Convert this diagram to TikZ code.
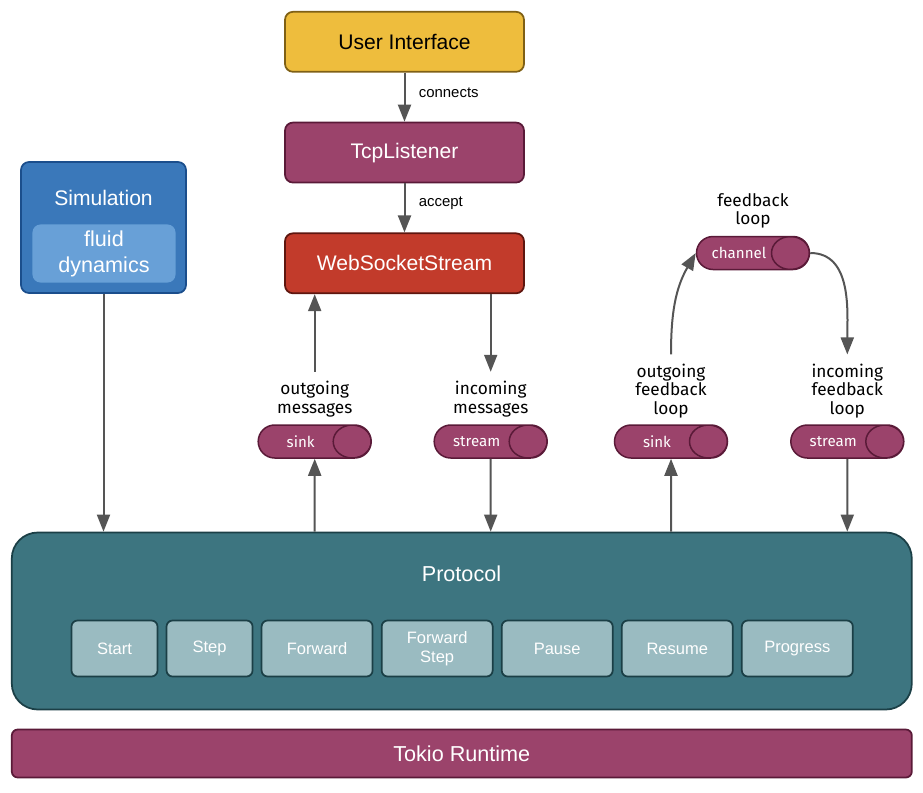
\documentclass[tikz,border=0pt]{standalone}
\usepackage{fontspec}
\setmainfont{Liberation Sans}
\newfontfamily\labelfont{Fira Sans}
\usetikzlibrary{positioning,shapes.misc,arrows.meta}

\definecolor{uiyellow}{HTML}{EEBD3D}
\definecolor{uiyellowdark}{HTML}{7F6015}
\definecolor{tokiopurple}{HTML}{9B436B}
\definecolor{tokiopurpledark}{HTML}{5A1A38}
\definecolor{wsred}{HTML}{C23B2B}
\definecolor{wsreddark}{HTML}{5E160F}
\definecolor{simblue}{HTML}{3A78BA}
\definecolor{simbluedark}{HTML}{1B4E8C}
\definecolor{simbluelight}{HTML}{68A0D7}
\definecolor{prototeal}{HTML}{3D7580}
\definecolor{prototealdark}{HTML}{1B3F46}
\definecolor{msgteal}{HTML}{9ABBC1}
\definecolor{arrowgray}{HTML}{555555}

\tikzset{
  box/.style={rounded corners=1.6mm, line width=0.35mm, minimum width=47.8mm, minimum height=12.0mm, font=\fontsize{12}{14}\selectfont},
  msgbox/.style={draw=prototealdark, fill=msgteal, rounded corners=1.2mm, line width=0.35mm, minimum height=11.2mm, text=white, align=center, font=\fontsize{9.4}{11}\selectfont},
  pipe/.style={rounded rectangle, draw=tokiopurpledark, fill=tokiopurple, line width=0.3mm, minimum width=22.6mm, minimum height=6.6mm, inner sep=0pt, text=white, font=\labelfont\fontsize{8.6}{9}\selectfont, execute at end node=\hspace{5.6mm},
    path picture={\draw[tokiopurpledark, line width=0.3mm] ([xshift=-3.8mm]path picture bounding box.east) ellipse (3.8mm and 3.3mm);}},
  flowlabel/.style={align=center, font=\labelfont\fontsize{9.8}{10.6}\selectfont, inner sep=1.8mm},
  edgelabel/.style={font=\fontsize{8.5}{10}\selectfont, text=black, anchor=west, xshift=1.5mm},
  flow/.style={-{Triangle[width=2.6mm,length=3.4mm]}, color=arrowgray, line width=0.4mm},
}

\begin{document}
\begin{tikzpicture}[x=0.2mm, y=-0.2mm]
\useasboundingbox (0,0) rectangle (923,793);

% connection chain
\node [box, fill=uiyellow, draw=uiyellowdark] (ui) at (404.5,41.8) {User Interface};
\node [box, fill=tokiopurple, draw=tokiopurpledark, text=white, below=9.8mm of ui] (tcp) {TcpListener};
\node [box, fill=wsred, draw=wsreddark, text=white, below=9.8mm of tcp] (ws) {WebSocketStream};

\draw [flow] (ui) -- (tcp) node [edgelabel, pos=0.4] {connects};
\draw [flow] (tcp) -- (ws) node [edgelabel, pos=0.4] {accept};

% simulation
\node [box, fill=simblue, draw=simbluedark, minimum width=33mm, minimum height=26.2mm] (sim) at (103.5,227.5) {};
\node [text=white, font=\fontsize{12}{14}\selectfont] (simtitle) at (103.5,197.5) {Simulation};
\node [fill=simbluelight, rounded corners=1.6mm, minimum width=28.6mm, minimum height=11.2mm, text=white, align=center, font=\fontsize{12.3}{14.9}\selectfont] (fluid) at (104,253.5) {fluid\\dynamics};

% protocol and runtime
\node [fill=prototeal, draw=prototealdark, line width=0.35mm, rounded corners=5.2mm, minimum width=180mm, minimum height=35.4mm] (proto) at (461.8,621) {};
\node [text=white, font=\fontsize{12.3}{14}\selectfont] (prototitle) at (461.5,574) {Protocol};
\node [fill=tokiopurple, draw=tokiopurpledark, line width=0.35mm, rounded corners=1.2mm, minimum width=180mm, minimum height=9.6mm, text=white, font=\fontsize{12.3}{14}\selectfont] (tokio) at (461.8,753.5) {Tokio Runtime};

\node [msgbox, minimum width=17.2mm] (start) at (114.5,648.5) {Start};
\node [msgbox, minimum width=17.2mm, right=1.46mm of start] (step) {Step};
\node [msgbox, minimum width=22.2mm, right=1.46mm of step] (forward) {Forward};
\node [msgbox, minimum width=22.2mm, right=1.46mm of forward] (fwdstep) {Forward\\Step};
\node [msgbox, minimum width=22.2mm, right=1.46mm of fwdstep] (pause) {Pause};
\node [msgbox, minimum width=22.2mm, right=1.46mm of pause] (resume) {Resume};
\node [msgbox, minimum width=22.2mm, right=1.46mm of resume] (progress) {Progress};

% channels
\node [pipe] (sinkmsg) at (314.7,441.5) {sink};
\node [pipe] (streammsg) at (490.7,441.5) {stream};
\node [pipe] (sinkfb) at (671,441.5) {sink};
\node [pipe] (streamfb) at (847.3,441.5) {stream};
\node [pipe] (channel) at (753,253) {channel};

\node [flowlabel] (msgout) at (314.7,399) {outgoing\\messages};
\node [flowlabel] (msgin) at (490.7,399) {incoming\\messages};
\node [flowlabel] (fbout) at (671,391) {outgoing\\feedback\\loop};
\node [flowlabel] (fbin) at (847.3,391) {incoming\\feedback\\loop};
\node [flowlabel, inner sep=0.5mm] (fbloop) at (753,211) {feedback\\loop};

\draw [flow] (sim) -- (sim |- proto.north);
\draw [flow] (proto.north -| sinkmsg) -- (sinkmsg);
\draw [flow] (streammsg) -- (streammsg |- proto.north);
\draw [flow] (proto.north -| sinkfb) -- (sinkfb);
\draw [flow] (streamfb) -- (streamfb |- proto.north);

\draw [flow] (msgout) -- (msgout |- ws.south);
\draw [flow] (msgin |- ws.south) -- (msgin);

% feedback loop
\draw [flow] (fbout.north) to [out=90, in=-120] (channel.west);
\draw [flow] (channel.east) to [out=0, in=90] (fbin.north);

\end{tikzpicture}
\end{document}
